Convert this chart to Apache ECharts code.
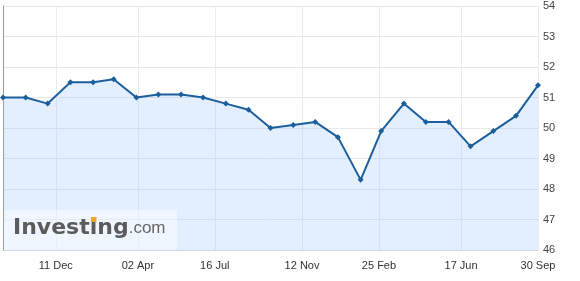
<!DOCTYPE html>
<html>
<head>
<meta charset="utf-8">
<script src="https://cdn.jsdelivr.net/npm/echarts@6/dist/echarts.min.js"></script>
<style>
  html, body { margin: 0; padding: 0; background: #fff; }
  #chart { width: 580px; height: 281px; }
</style>
</head>
<body>
<div id="chart"></div>
<script>
const dates = [
  "2017-09-30", "2017-10-31", "2017-11-30", "2017-12-31", "2018-01-31", "2018-02-28",
  "2018-03-31", "2018-04-30", "2018-05-31", "2018-06-30", "2018-07-31", "2018-08-31",
  "2018-09-30", "2018-10-31", "2018-11-30", "2018-12-31", "2019-01-31", "2019-02-28",
  "2019-03-31", "2019-04-30", "2019-05-31", "2019-06-30", "2019-07-31", "2019-08-31",
  "2019-09-30"
]
const values = [
  51.0, 51.0, 50.8, 51.5, 51.5, 51.6, 51.0, 51.1, 51.1, 51.0, 50.8, 50.6,
  50.0, 50.1, 50.2, 49.7, 48.3, 49.9, 50.8, 50.2, 50.2, 49.4, 49.9, 50.4,
  51.4
]
const tickDates = ["2017-12-11", "2018-04-02", "2018-07-16", "2018-11-12", "2019-02-25", "2019-06-17", "2019-09-30"]
const tickLabels = ["11 Dec", "02 Apr", "16 Jul", "12 Nov", "25 Feb", "17 Jun", "30 Sep"]

// day offsets from the first date (UTC parse, no DST issues)
const day0 = Date.parse(dates[0])
const toDay = (s) => Math.round((Date.parse(s) - day0) / 86400000)
const tickValues = tickDates.map(toDay)

const chart = echarts.init(document.getElementById("chart"), null, { renderer: "canvas" })

const option = {
  animation: false,
  grid: { left: 3, right: 42, top: 6, bottom: 31 },
  xAxis: {
    type: "value",
    min: 0,
    max: toDay(dates[dates.length - 1]),
    axisLine: { show: true, onZero: false, lineStyle: { color: "#c9d6e3", width: 1 } },
    axisTick: { show: false, customValues: tickValues },
    axisLabel: {
      customValues: tickValues,
      color: "#333",
      fontSize: 11,
      fontFamily: "Liberation Sans",
      margin: 10,
      formatter: (v) => {
        const i = tickValues.indexOf(v)
        return i >= 0 ? tickLabels[i] : ""
      }
    },
    splitLine: { show: true, lineStyle: { color: "#ebebeb", width: 1 } }
  },
  yAxis: [
    {
      type: "value",
      position: "right",
      min: 46,
      max: 54,
      interval: 1,
      axisLine: { show: true, lineStyle: { color: "#8c8c8c" } },
      axisTick: { show: false },
      axisLabel: { color: "#444", fontSize: 11, fontFamily: "Liberation Sans", margin: 5 },
      splitLine: { show: true, lineStyle: { color: "#e8e8e8" } }
    },
    {
      type: "value",
      position: "left",
      min: 46,
      max: 54,
      axisLine: { show: true, lineStyle: { color: "#9a9a9a" } },
      axisTick: { show: false },
      axisLabel: { show: false },
      splitLine: { show: false }
    }
  ],
  series: [
    {
      type: "line",
      data: dates.map((d, i) => [toDay(d), values[i]]),
      symbol: "diamond",
      symbolSize: 6,
      showSymbol: true,
      lineStyle: { color: "#1d5f9c", width: 2 },
      itemStyle: { color: "#1d5f9c" },
      areaStyle: { color: "rgba(140,190,250,0.34)" }
    }
  ],
  graphic: [
    {
      type: "rect",
      shape: { x: 4, y: 210, width: 173, height: 40 },
      style: { fill: "rgba(255,255,255,0.45)" },
      z: 10
    },
    {
      type: "text",
      x: 13,
      y: 239,
      style: {
        text: "{a|Investing}{b|.com}",
        verticalAlign: "bottom",
        rich: {
          a: { fontFamily: "DejaVu Sans", fontWeight: "bold", fontSize: 22, fill: "#5b5b5b" },
          b: { fontFamily: "Liberation Sans", fontSize: 17, fill: "#666" }
        }
      },
      z: 11
    },
    {
      type: "rect",
      shape: { x: 91, y: 217, width: 5.5, height: 5 },
      style: { fill: "#f0a52f" },
      z: 12
    }
  ]
}

chart.setOption(option)
</script>
</body>
</html>
